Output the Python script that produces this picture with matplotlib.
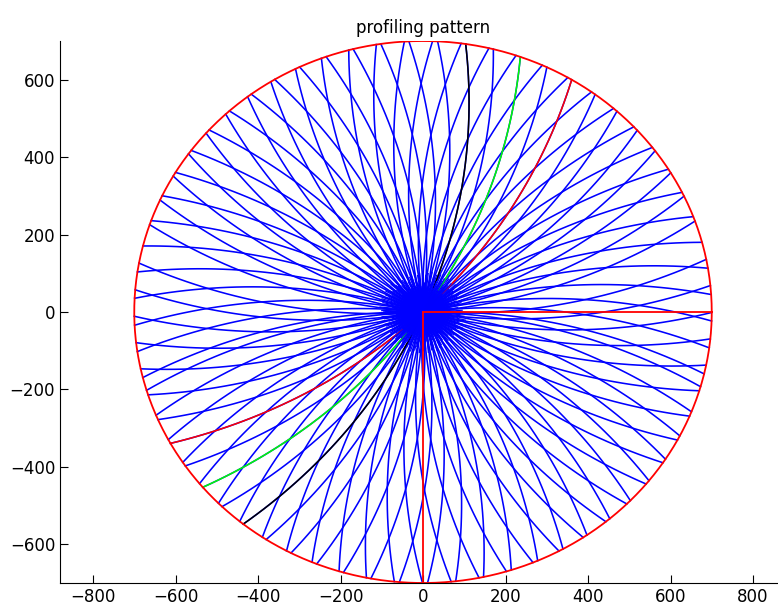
import numpy as np
import matplotlib.pyplot as plt

# plate radius (mm)
radius = 700
# rotation of the plate during one full sweep across the diameter (deg)
twist = 30

# mid-sweep angles of the full passes (deg), two sweep directions
angles_fwd = [4.6, 10.3, 15.9, 21.5, 27.1, 32.8, 38.4, 44.0, 49.6, 55.3, 60.9,
              66.5, 72.1, 77.8, 83.4, 89.0, 94.6, 100.3, 105.9, 111.5, 117.1,
              122.8, 128.4, 134.0, 139.6, 145.3, 150.9, 156.5, 162.1, 167.8,
              173.4, 179.0]
angles_back = [1.8, 7.4, 13.1, 18.7, 24.3, 29.9, 35.6, 41.2, 46.8, 52.4, 58.1,
               63.7, 69.3, 74.9, 80.6, 86.2, 91.8, 97.4, 103.1, 108.7, 114.3,
               119.9, 125.6, 131.2, 136.8, 142.4, 148.1, 153.7, 159.3, 164.9,
               170.6, 176.2]
# short dwell passes around the centre: angle step (deg) and stroke half-lengths
centre_step = 1.7
centre_lengths = [95, 75, 105, 85, 65, 100, 90]
# highlighted passes: mid angle and colour
highlight_angles = [66.5, 55.3, 44.0]
highlight_colors = ["k", "#00ff00", "r"]

k = np.deg2rad(twist) / (2*radius)


def sweep(theta0, direction, rmax=radius, n=70):
    r = np.linspace(-rmax, rmax, n)
    th = np.deg2rad(theta0) + direction*k*r
    return r*np.cos(th), r*np.sin(th)


fig = plt.figure(figsize=(7.78, 6.11), dpi=100)
ax = fig.add_axes([60/778, 28/611, 726/778, 542/611])

for a in angles_fwd:
    x, y = sweep(a, 1)
    ax.plot(x, y, color="b", lw=1.15)
for a in angles_back:
    x, y = sweep(a, -1)
    ax.plot(x, y, color="b", lw=1.15)

for a, c in zip(highlight_angles, highlight_colors):
    x, y = sweep(a, 1)
    ax.plot(x, y, color=c, lw=1.1)

for i, a in enumerate(np.arange(0, 180, centre_step)):
    x, y = sweep(a + 0.7, 1, centre_lengths[i % len(centre_lengths)], 10)
    ax.plot(x, y, color="b", lw=0.9)

phi = np.linspace(0, 2*np.pi, 400)
ax.plot(radius*np.cos(phi), radius*np.sin(phi), color="r", lw=1.3)
ax.plot([0, radius], [0, 0], color="r", lw=1.3)
ax.plot([0, 0], [0, -radius], color="r", lw=1.3)

ax.set_xlim(-880, 880)
ax.set_ylim(-700, 700)
ax.set_xticks(np.arange(-800, 801, 200))
ax.set_yticks(np.arange(-600, 601, 200))
ax.spines["top"].set_visible(False)
ax.spines["right"].set_visible(False)
ax.tick_params(direction="in", length=6, labelsize=12)
ax.set_title("profiling pattern", fontsize=12)

fig.savefig("out.png", dpi=100)
